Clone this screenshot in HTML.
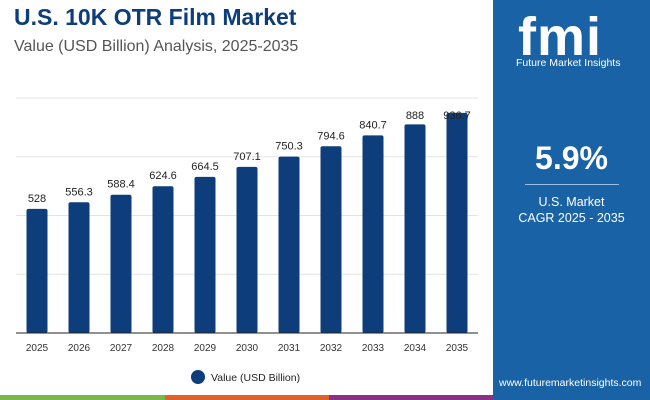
<!DOCTYPE html>
<html><head><meta charset="utf-8"><style>
body{margin:0;width:650px;height:400px;position:relative;overflow:hidden;background:#fff;font-family:"Liberation Sans",sans-serif}
.t{position:absolute;white-space:nowrap}
</style></head><body>
<div class="t" style="left:14px;top:4px;font-size:23px;font-weight:bold;color:#0d3d7a">U.S. 10K OTR Film Market</div>
<div class="t" style="left:14px;top:38px;font-size:16px;color:#555">Value (USD Billion) Analysis, 2025-2035</div>
<svg id="c" width="493" height="400" style="position:absolute;left:0;top:0"></svg>
<div style="position:absolute;left:493px;top:0;width:157px;height:400px;background:#1a62a6"></div>
<div class="t" style="left:518px;top:6px;font-size:54px;font-weight:bold;color:#fff;font-family:'Liberation Sans',sans-serif;letter-spacing:1px">fmi</div>
<div class="t" style="left:516px;top:57px;font-size:10.5px;color:#fff">Future Market Insights</div>
<div class="t" style="left:493px;width:157px;text-align:center;top:140px;font-size:32px;font-weight:bold;color:#fff">5.9%</div>
<div style="position:absolute;left:525px;top:184px;width:94px;height:1px;background:#9bbde0"></div>
<div class="t" style="left:493px;width:157px;text-align:center;top:194px;font-size:12.5px;color:#fff;line-height:16px">U.S. Market<br>CAGR 2025 - 2035</div>
<div class="t" style="left:499px;top:377px;font-size:10.5px;color:#fff">www.futuremarketinsights.com</div>
<div style="position:absolute;left:0;top:395px;width:165px;height:5px;background:#7ab648"></div>
<div style="position:absolute;left:165px;top:395px;width:164px;height:5px;background:#e0622a"></div>
<div style="position:absolute;left:329px;top:395px;width:164px;height:5px;background:#8a2f86"></div>
<script>
const categories=["2025","2026","2027","2028","2029","2030","2031","2032","2033","2034","2035"];
const values=[528,556.3,588.4,624.6,664.5,707.1,750.3,794.6,840.7,888,936.7];
const labels=["528","556.3","588.4","624.6","664.5","707.1","750.3","794.6","840.7","888","936.7"];
const gridTicks=[0,250,500,750,1000];
const svg=document.getElementById('c');const NS='http://www.w3.org/2000/svg';
const x0=16,x1=478,yb=333,yt=98,max=1000;
const y=v=>yb-(v/max)*(yb-yt);
const step=(x1-x0)/categories.length;
const xc=i=>x0+step*(i+0.5);
function mk(t,a){const e=document.createElementNS(NS,t);for(const k in a)e.setAttribute(k,a[k]);svg.appendChild(e);return e;}
gridTicks.forEach(g=>{if(g===0)return;const l=mk('line',{x1:x0,x2:x1,y1:y(g),y2:y(g),stroke:'#e3e3e3','stroke-width':1});

});
categories.forEach((c,i)=>{
const r=mk('rect',{x:xc(i)-10.5,y:y(values[i]),width:21,height:yb-y(values[i]),fill:'#0d3d7a',rx:2});


const t=mk('text',{x:xc(i),y:Math.max(y(values[i])-7,119),'text-anchor':'middle','font-size':11,fill:'#222','font-family':'Liberation Sans'});t.textContent=labels[i];


const a=mk('text',{x:xc(i),y:351,'text-anchor':'middle','font-size':10,fill:'#333','font-family':'Liberation Sans'});a.textContent=c;

});
const ax=mk('line',{x1:x0,x2:x1,y1:yb,y2:yb,stroke:'#222','stroke-width':1});


const lc=mk('circle',{cx:198,cy:377,r:7,fill:'#0d3d7a'});


const lt=mk('text',{x:211,y:381,'font-size':10.5,fill:'#222','font-family':'Liberation Sans'});lt.textContent='Value (USD Billion)';


</script>
</body></html>
